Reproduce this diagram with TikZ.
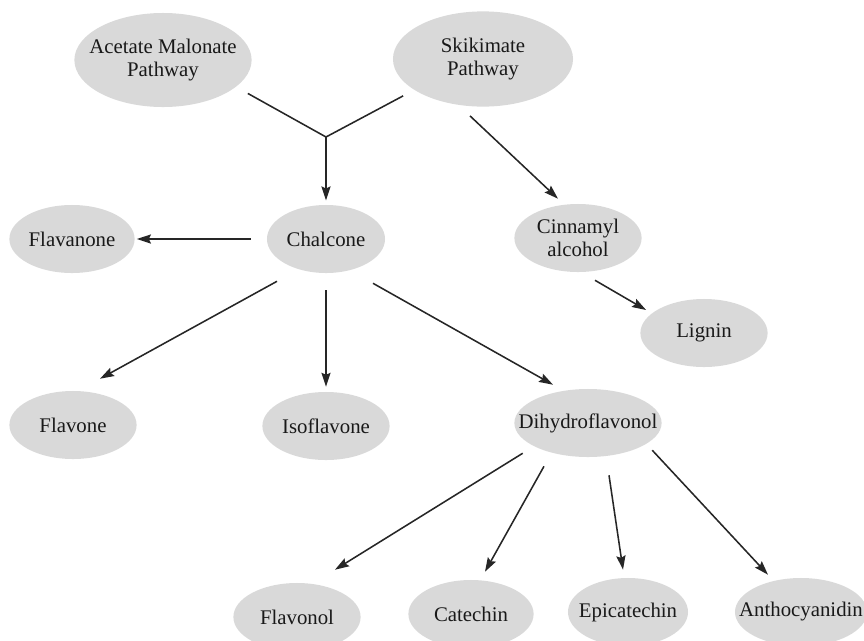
\documentclass[tikz,border=0pt]{standalone}
\usepackage{fontspec}
\setmainfont{Liberation Serif}
\usepackage{tikz}
\usetikzlibrary{positioning,arrows.meta,calc,shapes.geometric}
\definecolor{bubblegray}{RGB}{217,217,217}

\begin{document}
\begin{tikzpicture}[x=0.025cm,y=-0.025cm,
    bubble/.style={ellipse,fill=bubblegray,inner xsep=-18pt,inner ysep=0pt,
      minimum width=3.18cm,minimum height=1.7cm,align=center,text=black!90,
      font=\fontsize{14.8}{16}\selectfont},
    ln/.style={draw=black!85,line width=1.1pt},
    arr/.style={ln,-{Stealth[length=10pt,width=6.5pt,inset=1.5pt]}}]
	\useasboundingbox (0,0) rectangle (864,640);
	
	% pathways
	\node[bubble,minimum width=4.43cm,minimum height=2.35cm] (acetate) at (163,60) {Acetate Malonate\\Pathway};
	\node[bubble,minimum width=4.5cm,minimum height=2.38cm] (skikimate) at (483,59) {Skikimate\\Pathway};
	
	\node[bubble,minimum width=2.95cm] (chalcone) at (326,239) {Chalcone};
	\node[bubble,minimum width=3.13cm] (flavanone) at (72,239) {Flavanone};
	\node[bubble] (cinnamyl) at (578,238) {Cinnamyl\\alcohol};
	\node[bubble] (lignin) at (704,333) {Lignin};
	
	\node[bubble] (flavone) at (73,425) {Flavone};
	\node[bubble] (isoflavone) at (326,426) {Isoflavone};
	\node[bubble,minimum width=3.68cm] (dihydro) at (588,423) {Dihydroflavonol};
	
	\node[bubble] (flavonol) at (297,617) {Flavonol};
	\node[bubble,minimum width=3.13cm] (catechin) at (471,614) {Catechin};
	\node[bubble,minimum width=3cm] (epicatechin) at (628,612) {Epicatechin};
	\node[bubble,minimum width=3.3cm] (antho) at (801,612) {Anthocyanidin};
	
	% both pathways feed chalcone
	\coordinate (junc) at (326,137);
	\draw[ln] ($(acetate.south east)+(22,0)$) -- (junc);
	\draw[ln] ($(skikimate.south west)+(-16,3)$) -- (junc);
	\draw[arr,shorten >=3pt] (junc) -- (chalcone);
	\draw[arr] ($(skikimate.south)+(-13,9)$) -- ($(cinnamyl.north)+(-20,-5)$);
	\draw[arr] ($(cinnamyl.south)+(17,8)$) -- ($(lignin.west)+(6,-23)$);
	
	% from chalcone
	\draw[arr] ($(chalcone.west)+(-16,0)$) -- ($(flavanone.east)+(2,0)$);
	\draw[arr] ($(chalcone.south)+(-49,8)$) -- ($(flavone.north)+(27,-12)$);
	\draw[arr,shorten <=12pt,shorten >=3.5pt] (chalcone) -- (isoflavone);
	\draw[arr] ($(chalcone.south)+(47,10)$) -- ($(dihydro.north)+(-35,-4)$);
	
	% from dihydroflavonol
	\draw[arr] ($(dihydro.south west)+(-13,6)$) -- ($(flavonol.north)+(38,-13)$);
	\draw[arr] ($(dihydro.south)+(-44,9)$) -- ($(catechin.north)+(14,-8)$);
	\draw[arr] ($(dihydro.south)+(21,18)$) -- ($(epicatechin.north)+(-5,-8)$);
	\draw[arr] ($(dihydro.south east)+(12,3)$) -- ($(antho.north)+(-33,-3)$);
\end{tikzpicture}
\end{document}
